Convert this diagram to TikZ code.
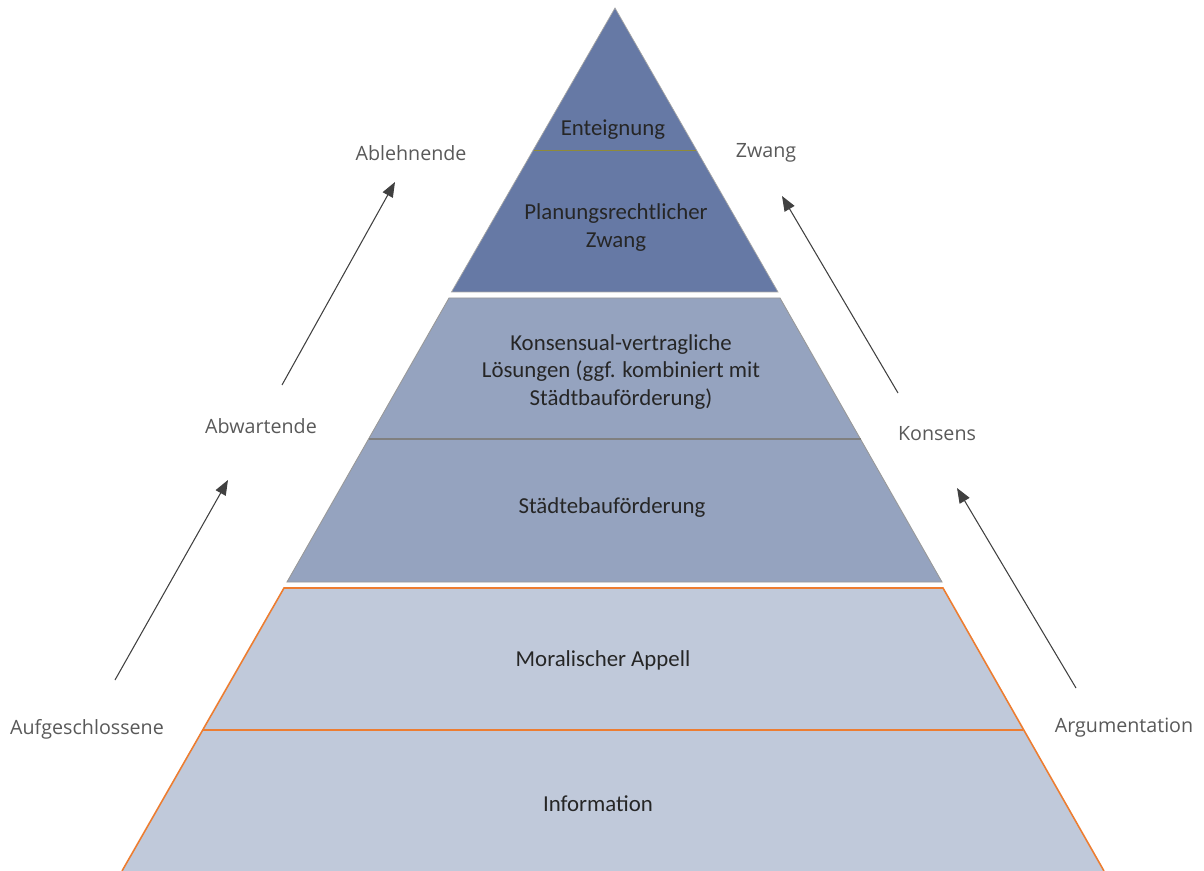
\documentclass[tikz,border=0pt]{standalone}
\usepackage{fontspec}
\setmainfont{Carlito}
\newfontfamily\sidefont{Open Sans}
\usetikzlibrary{arrows.meta}
\definecolor{topblue}{RGB}{102,121,165}
\definecolor{midblue}{RGB}{149,163,191}
\definecolor{lowblue}{RGB}{192,201,218}
\definecolor{edgeorange}{RGB}{237,125,49}
\definecolor{txtdark}{RGB}{38,38,38}
\definecolor{sidegray}{RGB}{89,89,89}
\definecolor{arrgray}{RGB}{64,64,64}

\begin{document}
\begin{tikzpicture}[x=0.02cm,y=-0.02cm,
  level/.style={font=\fontsize{13}{15.9}\selectfont,text=txtdark,align=center},
  side/.style={font=\sidefont\fontsize{11.2}{13}\selectfont,text=sidegray},
  arr/.style={-{Triangle[length=8.5pt,width=6.5pt]},draw=arrgray,line width=0.6pt}]
\useasboundingbox (0,0) rectangle (1204,871);
% top block
\fill[topblue] (615,8) -- (778,292) -- (451.5,292) -- cycle;
\draw[gray!70,line width=0.4pt] (615,8) -- (778,292) -- (451.5,292) -- cycle;
\draw[olive!60!gray,line width=0.4pt] (533.5,150) -- (696,150);
% middle block
\fill[midblue] (449,298) -- (780,298) -- (942,582) -- (287,582) -- cycle;
\draw[gray!80,line width=0.5pt] (449,298) -- (780,298) -- (942,582) -- (287,582) -- cycle;
\draw[gray,line width=1pt] (369,439) -- (860.5,439);
% bottom block
\fill[lowblue] (284,588) -- (943,588) -- (1104,871) -- (122,871) -- cycle;
\draw[edgeorange,line width=0.9pt] (122,871) -- (284,588) -- (943,588) -- (1104,871);
\draw[edgeorange,line width=1.2pt] (203,730) -- (1023,730);
% texts in the pyramid
\node[level] (ent) at (613,130) {Enteignung};
\node[level] (plan) at (616,228) {Planungsrechtlicher\\Zwang};
\node[level] (kons) at (621,372) {Konsensual-vertragliche\\Lösungen (ggf. kombiniert mit\\Städtbauförderung)};
\node[level] (stb) at (612,508) {Städtebauförderung};
\node[level] (moral) at (603,660) {Moralischer Appell};
\node[level] (info) at (598,804) {Information};
% side labels
\node[side] (aufg) at (87,729) {Aufgeschlossene};
\node[side] (abw) at (261,426) {Abwartende};
\node[side] (abl) at (411,153) {Ablehnende};
\node[side] (arg) at (1124,728) {Argumentation};
\node[side] (konsens) at (937,434) {Konsens};
\node[side] (zwang) at (766,153) {Zwang};
% arrows
\coordinate (l1s) at (115,680);
\coordinate (l1e) at (228,480);
\coordinate (l2s) at (282,385);
\coordinate (l2e) at (395,182);
\coordinate (r1s) at (1076,688);
\coordinate (r1e) at (957,488);
\coordinate (r2s) at (898,393);
\coordinate (r2e) at (782,196);
\draw[arr] (l1s) -- (l1e);
\draw[arr] (l2s) -- (l2e);
\draw[arr] (r1s) -- (r1e);
\draw[arr] (r2s) -- (r2e);
\end{tikzpicture}
\end{document}
